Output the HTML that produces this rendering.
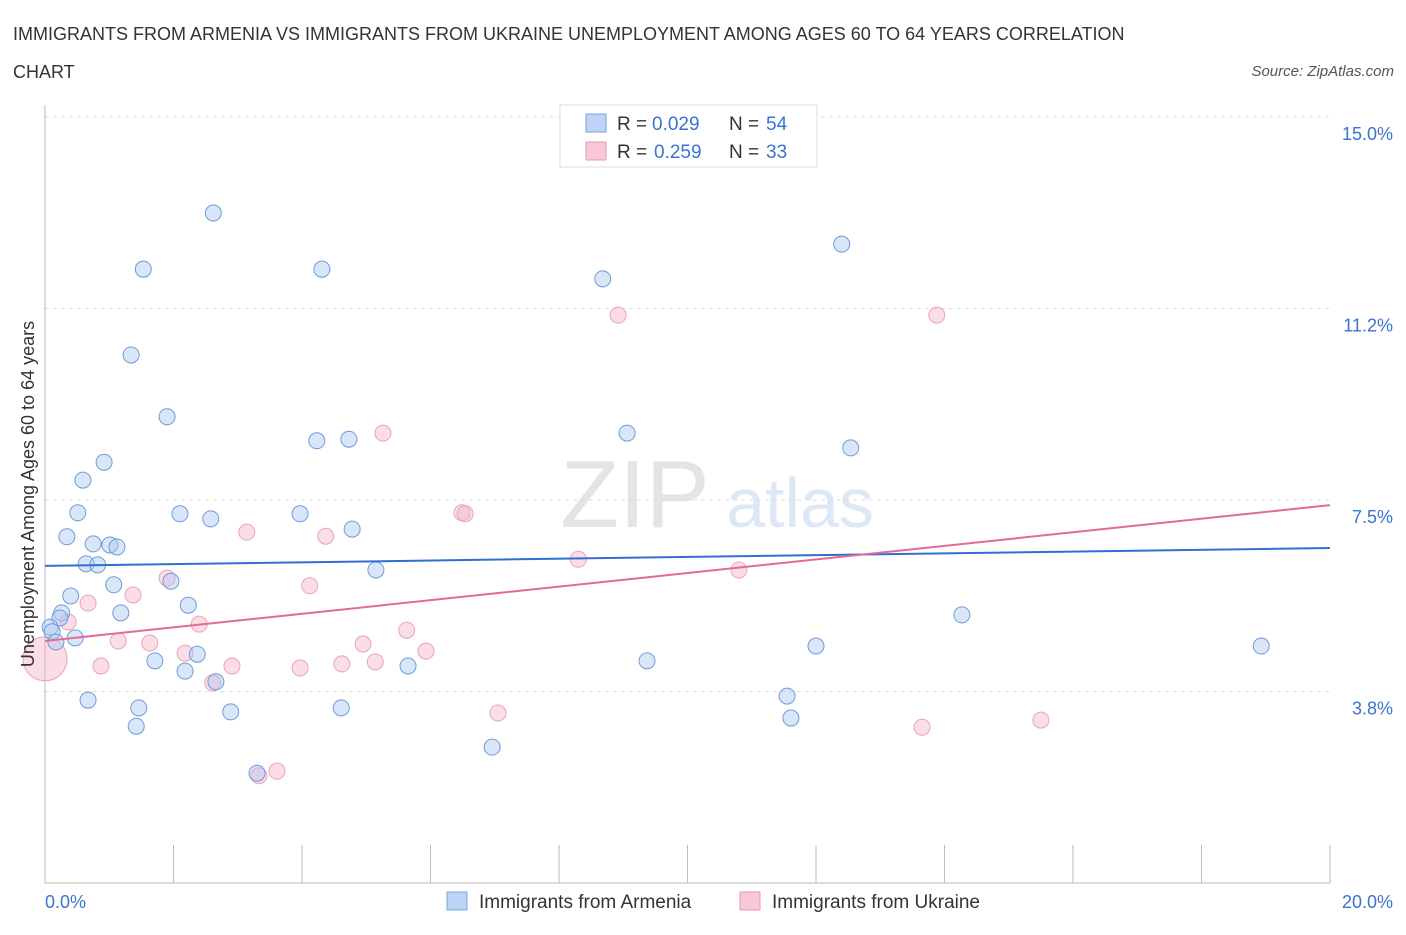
<!DOCTYPE html>
<html><head><meta charset="utf-8"><style>
body{margin:0;background:#fff;font-family:"Liberation Sans",sans-serif;}
svg text{font-family:"Liberation Sans",sans-serif;}
</style></head><body>
<svg id="chart" width="1406" height="930" viewBox="0 0 1406 930" xmlns="http://www.w3.org/2000/svg">
<text x="13" y="40" font-size="18" fill="#333">IMMIGRANTS FROM ARMENIA VS IMMIGRANTS FROM UKRAINE UNEMPLOYMENT AMONG AGES 60 TO 64 YEARS CORRELATION</text>
<text x="13" y="78" font-size="18" fill="#333">CHART</text>
<text x="1394" y="76" font-size="15" fill="#555" font-style="italic" text-anchor="end">Source: ZipAtlas.com</text>
<g>
<text x="635" y="527" font-size="96" fill="#e4e4e4" font-family="Liberation Serif" text-anchor="middle">ZIP</text>
<text x="800" y="527" font-size="70" fill="#dce8f6" text-anchor="middle">atlas</text>
</g>
<g id="grid"></g>
<g id="axes"></g>
<g id="marks"></g>
<g id="lines"></g>
<text transform="translate(34,494) rotate(-90)" font-size="18" fill="#333" text-anchor="middle">Unemployment Among Ages 60 to 64 years</text>
<g>
<rect x="560" y="105" width="257" height="62" fill="#fff" stroke="#ddd"/>
<rect x="586" y="114" width="20" height="18" fill="#bcd4f5" stroke="#7da6e0"/>
<text x="617" y="130" font-size="19" fill="#333">R =</text>
<text x="652" y="130" font-size="19" fill="#3a73d0">0.029</text>
<text x="729" y="130" font-size="19" fill="#333">N =</text>
<text x="766" y="130" font-size="19" fill="#3a73d0">54</text>
<rect x="586" y="142" width="20" height="18" fill="#f8c8d7" stroke="#e899b2"/>
<text x="617" y="158" font-size="19" fill="#333">R =</text>
<text x="654" y="158" font-size="19" fill="#3a73d0">0.259</text>
<text x="729" y="158" font-size="19" fill="#333">N =</text>
<text x="766" y="158" font-size="19" fill="#3a73d0">33</text>
</g>
<g>
<rect x="447" y="892" width="20" height="18" fill="#bcd4f5" stroke="#7da6e0"/>
<text x="479" y="908" font-size="19" fill="#333">Immigrants from Armenia</text>
<rect x="740" y="892" width="20" height="18" fill="#f8c8d7" stroke="#e899b2"/>
<text x="772" y="908" font-size="19" fill="#333">Immigrants from Ukraine</text>
</g>
</svg>
<script>
const yTicks=[3.75,7.5,11.25,15];
const yTickLabels=["3.8%","7.5%","11.2%","15.0%"];
const xTickLabels=["0.0%","20.0%"];
const armeniaX=[2.62,1.53,4.31,8.68,12.40,1.34,1.90,4.23,4.73,9.06,12.54,0.92,0.59,0.51,2.10,2.58,3.97,4.78,0.34,0.75,1.01,1.12,0.64,0.82,5.15,1.07,1.96,0.40,2.23,1.18,0.26,0.23,0.08,0.11,0.17,0.47,2.37,1.71,2.18,5.65,9.37,12.00,14.27,18.93,0.67,1.46,2.89,2.66,4.61,11.55,11.61,1.42,6.96,3.30];
const armeniaY=[13.12,12.02,12.02,11.83,12.51,10.34,9.13,8.66,8.69,8.81,8.52,8.24,7.89,7.25,7.23,7.13,7.23,6.93,6.78,6.64,6.62,6.58,6.25,6.23,6.13,5.84,5.91,5.62,5.44,5.29,5.29,5.19,5.01,4.92,4.72,4.80,4.48,4.35,4.15,4.25,4.35,4.64,5.25,4.64,3.58,3.43,3.35,3.94,3.43,3.66,3.23,3.07,2.66,2.15];
const ukraineX=[8.92,13.88,5.26,6.49,6.54,3.14,4.37,8.30,10.80,1.90,4.12,1.37,0.67,0.36,2.40,5.63,1.14,1.63,4.95,0.0,5.93,2.18,0.87,2.91,3.97,4.62,5.14,2.61,7.05,15.50,13.65,3.61,3.33];
const ukraineY=[11.12,11.12,8.81,7.25,7.23,6.87,6.79,6.34,6.13,5.97,5.82,5.64,5.48,5.11,5.07,4.95,4.74,4.70,4.68,4.39,4.54,4.50,4.25,4.25,4.21,4.29,4.33,3.92,3.33,3.19,3.05,2.19,2.10];
const armeniaTrend=[6.21,6.56];
const ukraineTrend=[4.74,7.40];
const ns="http://www.w3.org/2000/svg";
const X=v=>45+v/20*1285, Y=v=>883-v/15*766;
function mk(t,a,p){const e=document.createElementNS(ns,t);for(const k in a)e.setAttribute(k,a[k]);document.getElementById(p).appendChild(e);return e;}
yTicks.forEach((t,i)=>{
 const g=mk('line',{x1:45,x2:1330,y1:Y(t),y2:Y(t),stroke:'#ddd','stroke-dasharray':'4,4'},'grid');
 
 
 const l=mk('text',{x:1393,y:Y(t)+23,'font-size':18,fill:'#3a73d0','text-anchor':'end'},'axes');
 l.textContent=yTickLabels[i];
 
 
});
let a=mk('line',{x1:45,x2:45,y1:105,y2:883,stroke:'#bbb'},'axes');


a=mk('line',{x1:45,x2:1330,y1:883,y2:883,stroke:'#bbb'},'axes');


for(let i=0;i<=10;i++){const t=mk('line',{x1:X(i*2),x2:X(i*2),y1:845,y2:883,stroke:'#bbb'},'axes');
 
 }
[[0,'start',45],[1,'end',1393]].forEach(([i,an,x])=>{const t=mk('text',{x:x,y:908,'font-size':18,fill:'#3a73d0','text-anchor':an},'axes');t.textContent=xTickLabels[i];
 
 });
ukraineX.forEach((x,i)=>{const c=mk('circle',{cx:X(x),cy:Y(ukraineY[i]),r:(x===0?22:8),fill:'rgba(246,180,200,0.45)',stroke:'#eba3ba','stroke-width':1},'marks');
 
 });
armeniaX.forEach((x,i)=>{const c=mk('circle',{cx:X(x),cy:Y(armeniaY[i]),r:8,fill:'rgba(170,200,240,0.45)',stroke:'#6f9bd9','stroke-width':1},'marks');
 
 });
let t=mk('line',{x1:X(0),x2:X(20),y1:Y(armeniaTrend[0]),y2:Y(armeniaTrend[1]),stroke:'#2f6fd0','stroke-width':2},'lines');


t=mk('line',{x1:X(0),x2:X(20),y1:Y(ukraineTrend[0]),y2:Y(ukraineTrend[1]),stroke:'#e26b96','stroke-width':2},'lines');


</script>
</body></html>
